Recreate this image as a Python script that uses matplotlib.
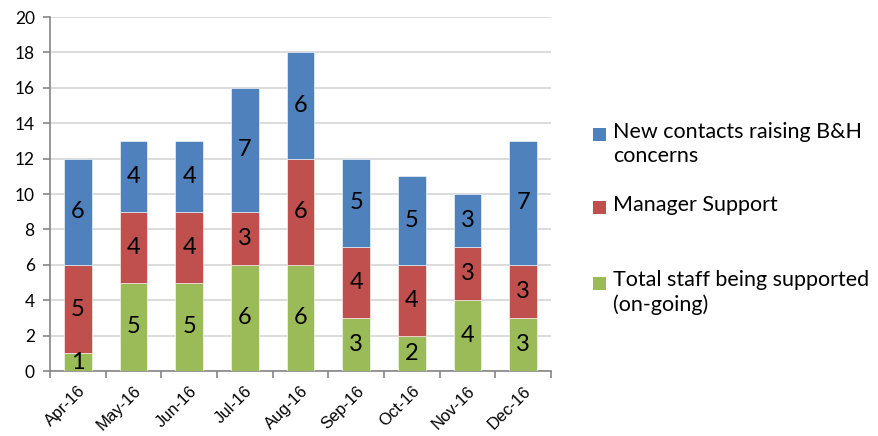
import matplotlib
matplotlib.use("Agg")
import matplotlib.pyplot as plt
from matplotlib.patches import Rectangle
import numpy as np

months = ["Apr-16", "May-16", "Jun-16", "Jul-16", "Aug-16", "Sep-16", "Oct-16", "Nov-16", "Dec-16"]
ongoing = [1, 5, 5, 6, 6, 3, 2, 4, 3]
manager = [5, 4, 4, 3, 6, 4, 4, 3, 3]
new_contacts = [6, 4, 4, 7, 6, 5, 5, 3, 7]

labels = ["New contacts raising B&H\nconcerns", "Manager Support",
          "Total staff being supported\n(on-going)"]
colors = {"new": "#4F81BD", "mgr": "#C0504D", "ong": "#9BBB59"}

W, H = 879, 436
fig = plt.figure(figsize=(W / 100, H / 100), dpi=100)
ax = fig.add_axes([50 / W, 1 - 371 / H, 501 / W, 354 / H])

x = np.arange(len(months))
bw = 0.5
series = [(ongoing, colors["ong"]), (manager, colors["mgr"]), (new_contacts, colors["new"])]
bottom = np.zeros(len(months))
for vals, col in series:
    vals = np.array(vals, dtype=float)
    ax.bar(x, vals, bw, bottom=bottom, color=col, edgecolor="#ffffff",
           linewidth=0.4, zorder=3)
    for xi, b, v in zip(x, bottom, vals):
        ax.text(xi, b + v / 2, f"{int(v)}", ha="center", va="center",
                fontsize=17, family="Lato", color="black", zorder=4)
    bottom += vals

ax.set_xlim(-0.5, len(months) - 0.5)
ax.set_ylim(0, 20)
ax.set_yticks(range(0, 21, 2))
ax.yaxis.grid(True, color="#D9D9D9", linewidth=1.3, zorder=0)
ax.set_axisbelow(True)

ax.set_xticks(x)
ax.set_xticklabels(months, rotation=45, ha="right", rotation_mode="anchor",
                   fontsize=12, family="Liberation Sans")
ax.set_xticks(np.arange(-0.5, len(months)), minor=True)
ax.tick_params(axis="x", which="major", length=0, pad=9)
ax.tick_params(axis="x", which="minor", length=5, color="#868686", width=1.2)
ax.tick_params(axis="y", length=5, color="#868686", width=1.2, pad=6)
for lbl in ax.get_yticklabels():
    lbl.set_fontsize(12.5)
    lbl.set_family("Lato")

for side in ["top", "right"]:
    ax.spines[side].set_visible(False)
for side in ["left", "bottom"]:
    ax.spines[side].set_color("#868686")
    ax.spines[side].set_linewidth(1.2)

# Legend drawn as individual entries
entries = [
    (colors["new"], labels[0], 135),
    (colors["mgr"], labels[1], 208),
    (colors["ong"], labels[2], 283),
]
for col, text, yc in entries:
    fig.add_artist(Rectangle((593 / W, 1 - (yc + 6.5) / H), 13 / W, 13 / H,
                             transform=fig.transFigure, facecolor=col,
                             edgecolor="none"))
    fig.text(613 / W, 1 - (yc - 13) / H, text, ha="left", va="top",
             fontsize=15.5, family="Lato", linespacing=1.25)

fig.savefig("out.png", dpi=100, facecolor="white")
